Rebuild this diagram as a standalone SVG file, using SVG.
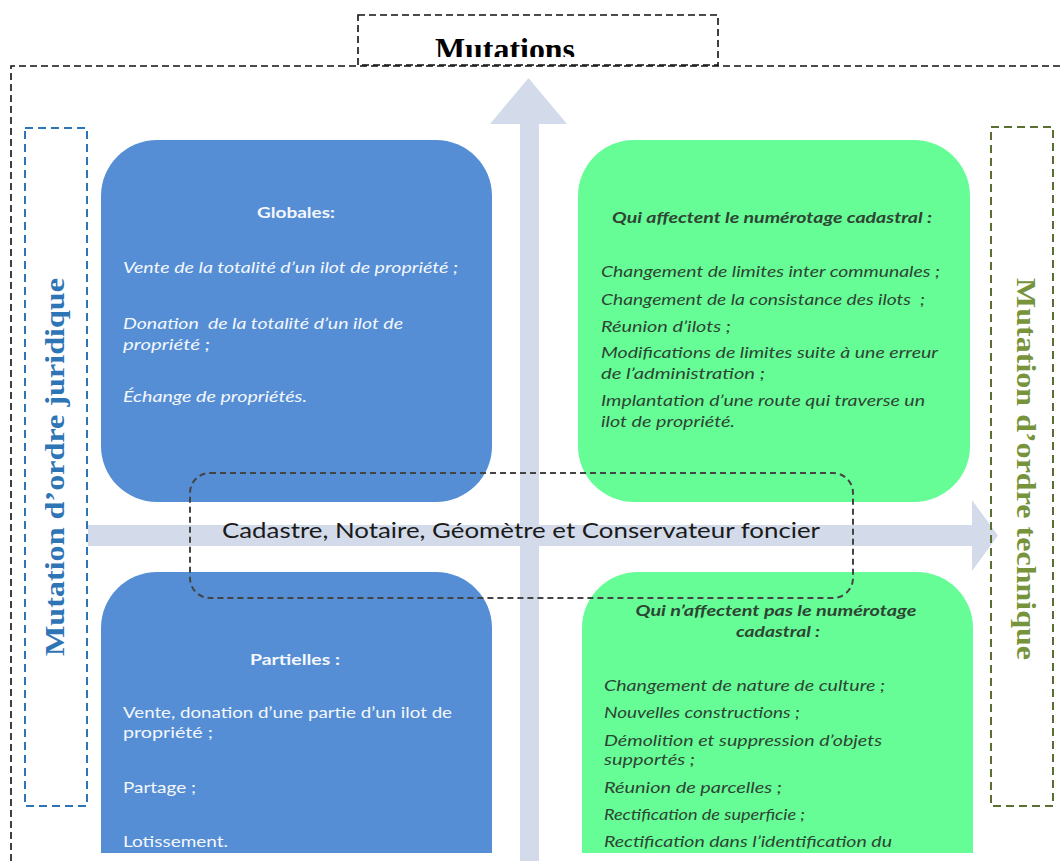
<svg xmlns="http://www.w3.org/2000/svg" width="1062" height="861" viewBox="0 0 1062 861">
  <style>
    .frame { fill: none; stroke: #111; stroke-width: 1.6; stroke-dasharray: 7 4; }
    .axis { fill: #d3dbea; }
    .blue { fill: #558ed5; }
    .green { fill: #66fd96; }
    .wt { fill: #f4f7fc; font-family: Lato, "Liberation Sans", sans-serif; font-size: 15px; }
    .dk { fill: #2e4434; font-family: Lato, "Liberation Sans", sans-serif; font-size: 15px; font-style: italic; }
    .it { font-style: italic; }
    .b { font-weight: bold; }
    .side { font-family: "Liberation Serif", serif; font-weight: bold; font-size: 28px; }
  </style>
  <defs>
    <clipPath id="clipTitle"><rect x="358" y="15" width="360" height="42"/></clipPath>
    <clipPath id="clipBottom"><rect x="0" y="0" width="1062" height="853"/></clipPath>
  </defs>

  <!-- outer frame -->
  <path class="frame" d="M11,861 L11,66 L1062,66"/>

  <!-- title -->
  <g id="title">
    <rect class="frame" x="358" y="15" width="360" height="50"/>
    <text x="505" y="60" text-anchor="middle" clip-path="url(#clipTitle)" font-family="'Liberation Serif', serif" font-weight="bold" font-size="31" textLength="140" lengthAdjust="spacingAndGlyphs" fill="#000">Mutations</text>
  </g>

  <!-- axes -->
  <g id="connectors">
    <path class="axis" d="M520,861 L520,124 L490,124 L528.5,78 L567,124 L539,124 L539,861 Z"/>
    <path class="axis" d="M88,525 L972,525 L972,500 L998,535.5 L972,571 L972,546 L88,546 Z"/>
  </g>

  <!-- side labels -->
  <g id="label-juridique">
    <rect x="25" y="128" width="62" height="678" fill="none" stroke="#2e75b6" stroke-width="2" stroke-dasharray="8 5"/>
    <text class="side" transform="translate(64,656) rotate(-90)" fill="#2e75b6" textLength="378" lengthAdjust="spacingAndGlyphs">Mutation d’ordre juridique</text>
  </g>
  <g id="label-technique">
    <rect x="991" y="127" width="62" height="679" fill="none" stroke="#5b6f33" stroke-width="2" stroke-dasharray="8 5"/>
    <text class="side" transform="translate(1017,278) rotate(90)" fill="#77933c" textLength="382" lengthAdjust="spacingAndGlyphs">Mutation d’ordre technique</text>
  </g>

  <!-- juridique / globales -->
  <g id="globales">
    <rect class="blue" x="101" y="140" width="391" height="362" rx="56" ry="56"/>
    <text class="wt b" x="296" y="218" text-anchor="middle" textLength="78" lengthAdjust="spacingAndGlyphs">Globales:</text>
    <text class="wt it" x="123" y="273" textLength="335" lengthAdjust="spacingAndGlyphs">Vente de la totalité d’un ilot de propriété ;</text>
    <text class="wt it" x="123" y="329" textLength="280" lengthAdjust="spacingAndGlyphs" xml:space="preserve">Donation  de la totalité d’un ilot de</text>
    <text class="wt it" x="123" y="350" textLength="87" lengthAdjust="spacingAndGlyphs">propriété ;</text>
    <text class="wt it" x="123" y="402" textLength="184" lengthAdjust="spacingAndGlyphs">Échange de propriétés.</text>
  </g>

  <!-- technique / affectant le numérotage -->
  <g id="affectent">
    <rect class="green" x="578" y="140" width="392" height="362" rx="56" ry="56"/>
    <text class="dk b" x="772" y="223" text-anchor="middle" textLength="320" lengthAdjust="spacingAndGlyphs">Qui affectent le numérotage cadastral :</text>
    <text class="dk" x="601" y="277" textLength="339" lengthAdjust="spacingAndGlyphs">Changement de limites inter communales ;</text>
    <text class="dk" x="601" y="305" textLength="324" lengthAdjust="spacingAndGlyphs" xml:space="preserve">Changement de la consistance des ilots  ;</text>
    <text class="dk" x="601" y="332" textLength="130" lengthAdjust="spacingAndGlyphs">Réunion d’ilots ;</text>
    <text class="dk" x="601" y="358" textLength="337" lengthAdjust="spacingAndGlyphs">Modifications de limites suite à une erreur</text>
    <text class="dk" x="601" y="379" textLength="164" lengthAdjust="spacingAndGlyphs">de l’administration ;</text>
    <text class="dk" x="601" y="406" textLength="324" lengthAdjust="spacingAndGlyphs">Implantation d’une route qui traverse un</text>
    <text class="dk" x="601" y="427" textLength="134" lengthAdjust="spacingAndGlyphs">ilot de propriété.</text>
  </g>

  <!-- juridique / partielles -->
  <g id="partielles" clip-path="url(#clipBottom)">
    <rect class="blue" x="101" y="572" width="391" height="340" rx="56" ry="56"/>
    <text class="wt b" x="295" y="665" text-anchor="middle" textLength="90" lengthAdjust="spacingAndGlyphs">Partielles :</text>
    <text class="wt" x="123" y="718" textLength="329" lengthAdjust="spacingAndGlyphs">Vente, donation d’une partie d’un ilot de</text>
    <text class="wt" x="123" y="738" textLength="90" lengthAdjust="spacingAndGlyphs">propriété ;</text>
    <text class="wt" x="123" y="793" textLength="73" lengthAdjust="spacingAndGlyphs">Partage ;</text>
    <text class="wt" x="123" y="847" textLength="105" lengthAdjust="spacingAndGlyphs">Lotissement.</text>
  </g>

  <!-- technique / sans effet sur le numérotage -->
  <g id="n-affectent-pas" clip-path="url(#clipBottom)">
    <rect class="green" x="582" y="572" width="391" height="340" rx="56" ry="56"/>
    <text class="dk b" x="776" y="616" text-anchor="middle" textLength="281" lengthAdjust="spacingAndGlyphs">Qui n’affectent pas le numérotage</text>
    <text class="dk b" x="778" y="637" text-anchor="middle" textLength="84" lengthAdjust="spacingAndGlyphs">cadastral :</text>
    <text class="dk" x="604" y="691" textLength="281" lengthAdjust="spacingAndGlyphs">Changement de nature de culture ;</text>
    <text class="dk" x="604" y="718" textLength="196" lengthAdjust="spacingAndGlyphs">Nouvelles constructions ;</text>
    <text class="dk" x="604" y="746" textLength="278" lengthAdjust="spacingAndGlyphs">Démolition et suppression d’objets</text>
    <text class="dk" x="604" y="765" textLength="91" lengthAdjust="spacingAndGlyphs">supportés ;</text>
    <text class="dk" x="604" y="793" textLength="178" lengthAdjust="spacingAndGlyphs">Réunion de parcelles ;</text>
    <text class="dk" x="604" y="820" textLength="201" lengthAdjust="spacingAndGlyphs">Rectification de superficie ;</text>
    <text class="dk" x="604" y="847" textLength="288" lengthAdjust="spacingAndGlyphs">Rectification dans l’identification du</text>
  </g>

  <!-- actors in the middle -->
  <g id="acteurs">
    <rect x="190" y="473" width="663" height="125" rx="20" ry="20" fill="none" stroke="#444" stroke-width="2" stroke-dasharray="6 4"/>
    <text x="521" y="538" text-anchor="middle" font-family="Lato, 'Liberation Sans', sans-serif" font-size="22" fill="#1a1a1a" textLength="598" lengthAdjust="spacingAndGlyphs">Cadastre, Notaire, Géomètre et Conservateur foncier</text>
  </g>
</svg>
